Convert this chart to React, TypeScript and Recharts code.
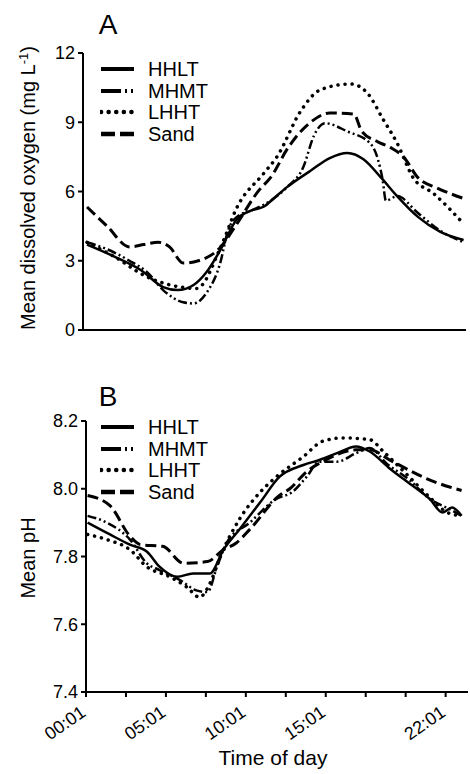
import React from 'react';
import { LineChart, Line, XAxis, YAxis } from 'recharts';

// x = hours since 00:01 ; y = mean value
const HHLT_A: [number, number][] = [[0.25,3.7],[1.9,3.2],[3.6,2.6],[5,1.86],[5.9,1.73],[6.9,1.95],[7.7,2.5],[8.6,3.5],[9.6,4.8],[10.6,5.2],[11.3,5.35],[11.9,5.7],[12.75,6.2],[14.2,6.9],[15.4,7.45],[16.5,7.67],[17.5,7.4],[18.6,6.6],[19.6,5.8],[20.9,4.9],[22.3,4.25],[23.75,3.9]];
const MHMT_A: [number, number][] = [[0.25,3.8],[1.5,3.5],[2.9,3.0],[4,2.5],[5,1.73],[6.25,1.2],[6.9,1.15],[7.7,1.6],[8.6,3.0],[9,4.2],[9.6,4.9],[10.6,5.2],[11.7,5.6],[12.75,6.2],[13.75,7.06],[14.4,8.4],[15.1,8.96],[16.5,8.6],[17.9,8.1],[18.4,7.4],[18.7,6.5],[18.9,5.6],[19.6,5.8],[20.9,5.07],[22.3,4.3],[23.75,3.8]];
const LHHT_A: [number, number][] = [[0.25,3.8],[1.9,3.2],[4,2.3],[6.1,1.86],[7.1,1.8],[8.6,3.6],[9.6,5.3],[11.3,6.8],[12.1,7.5],[13.6,9.5],[14.8,10.4],[16.7,10.66],[17.7,10.3],[18.75,9.1],[19.6,8.1],[20.6,6.6],[21.9,5.9],[23.75,4.6]];
const SAND_A: [number, number][] = [[0.25,5.33],[1.5,4.5],[2.9,3.6],[3.8,3.7],[4.7,3.8],[5.4,3.6],[6.25,2.9],[7.2,3.0],[8.6,3.6],[9.6,4.6],[11,6.07],[11.7,6.6],[12.8,7.9],[14.2,9.0],[15.4,9.4],[16.9,9.35],[17.4,8.6],[18.4,8.15],[19.2,7.9],[20,7.5],[20.9,6.6],[22.1,6.15],[23.75,5.7]];

const HHLT_B: [number, number][] = [[0.1,7.9],[1.5,7.865],[2.75,7.835],[3.8,7.815],[4.6,7.77],[5.7,7.74],[6.7,7.75],[7.75,7.75],[8.6,7.82],[9.6,7.88],[10.9,7.96],[12.1,8.035],[13.6,8.07],[14.6,8.085],[15.7,8.105],[16.9,8.125],[17.75,8.11],[19,8.06],[20.4,8.01],[21.5,7.97],[22.3,7.93],[22.9,7.945],[23.5,7.92]];
const MHMT_B: [number, number][] = [[0.1,7.92],[1.3,7.9],[2.75,7.85],[3.8,7.78],[4.6,7.76],[5.9,7.73],[6.9,7.7],[7.6,7.695],[8.2,7.77],[8.8,7.84],[10.25,7.9],[11.9,7.97],[12.9,7.99],[13.8,8.035],[14.6,8.08],[15.7,8.08],[16.9,8.105],[17.75,8.12],[18.8,8.075],[20.25,8.025],[21.5,7.97],[22.75,7.94],[23.5,7.92]];
const LHHT_B: [number, number][] = [[0.1,7.865],[1.3,7.85],[2.75,7.82],[3.8,7.77],[5.25,7.74],[6.3,7.71],[7.1,7.68],[7.75,7.72],[8.4,7.8],[9.6,7.91],[10.9,7.99],[11.9,8.035],[13.6,8.095],[14.8,8.14],[16.1,8.15],[17.75,8.145],[18.6,8.11],[19.8,8.055],[21.5,7.975],[22.6,7.93],[23.5,7.92]];
const SAND_B: [number, number][] = [[0.1,7.98],[1.5,7.95],[2.75,7.86],[3.4,7.835],[4.8,7.83],[6.1,7.78],[7.6,7.785],[8.6,7.82],[9.4,7.84],[10.25,7.88],[12.1,7.98],[12.75,8.0],[13.8,8.05],[15,8.085],[16.9,8.115],[17.75,8.115],[19,8.085],[20,8.06],[21.3,8.03],[22.75,8.005],[23.5,7.995]];

const hourTicks = [0, 2.5, 5, 7.5, 10, 12.5, 15, 17.5, 20, 22.5];
const tickLabels: Record<string, string> = { '0': '00:01', '5': '05:01', '10': '10:01', '15': '15:01', '22.5': '22:01' };
const doTicks = [0, 3, 6, 9, 12];
const phTicks = [7.4, 7.6, 7.8, 8.0, 8.2];
const seriesNames = ['HHLT', 'MHMT', 'LHHT', 'Sand'];

const FONT = '"Liberation Sans", Arial, Helvetica, sans-serif';

type Style = { dash?: string; width: number; cap: 'butt' | 'round' };
const styles: Record<string, Style> = {
  HHLT: { width: 2.5, cap: 'butt' },
  MHMT: { dash: '9 3 2 3 2 3', width: 2.5, cap: 'butt' },
  LHHT: { dash: '0.1 7', width: 3.5, cap: 'round' },
  Sand: { dash: '11 5', width: 3, cap: 'butt' },
};
const legendStyles: Record<string, Style> = {
  HHLT: { width: 4, cap: 'butt' },
  MHMT: { dash: '20 4 2 4 2 4', width: 4, cap: 'butt' },
  LHHT: { dash: '0.1 7.5', width: 4.5, cap: 'round' },
  Sand: { dash: '14 5', width: 4.5, cap: 'butt' },
};

const toPts = (a: [number, number][]) => a.map(([h, v]) => ({ h, v }));

const XTick = (props: any) => {
  const { x, y, payload } = props;
  const label = tickLabels[String(payload.value)];
  if (!label) return <g />;
  const tx = x + 1;
  const ty = y + 18;
  return (
    <text x={tx} y={ty} transform={`rotate(-35 ${tx} ${ty})`} textAnchor="end" fontSize={18} fontFamily={FONT} fill="#000">
      {label}
    </text>
  );
};

const lines = (sets: [number, number][][]) =>
  sets.map((s, i) => {
    const st = styles[seriesNames[i]];
    return (
      <Line
        key={seriesNames[i]}
        data={toPts(s)}
        dataKey="v"
        type="monotone"
        stroke="#000"
        strokeWidth={st.width}
        strokeDasharray={st.dash}
        strokeLinecap={st.cap}
        dot={false}
        activeDot={false}
        isAnimationActive={false}
      />
    );
  });

const LegendBox = ({ top }: { top: number }) => (
  <>
    {seriesNames.map((n, i) => {
      const st = legendStyles[n];
      return (
        <div key={n} style={{ position: 'absolute', left: 100, top: top + i * 21.5 - 12, height: 24, display: 'flex', alignItems: 'center' }}>
          <svg width={36} height={10} style={{ display: 'block' }}>
            <line x1={1} y1={5} x2={34} y2={5} stroke="#000" strokeWidth={st.width} strokeDasharray={st.dash} strokeLinecap={st.cap} />
          </svg>
          <span style={{ marginLeft: 12, fontSize: 20, fontFamily: FONT, lineHeight: '24px' }}>{n}</span>
        </div>
      );
    })}
  </>
);

const abs = (left: number, top: number, extra: React.CSSProperties = {}): React.CSSProperties => ({
  position: 'absolute',
  left,
  top,
  transform: 'translate(-50%, -50%)',
  whiteSpace: 'nowrap',
  fontFamily: FONT,
  color: '#000',
  ...extra,
});

export default function App() {
  const tickStyle = { fontSize: 18, fontFamily: FONT, fill: '#000' };
  return (
    <div style={{ position: 'absolute', left: 0, top: 0, width: 470, height: 774, background: '#fff', overflow: 'hidden' }}>
      <div style={{ position: 'absolute', left: 0, top: 0 }}>
        <LineChart width={470} height={360} margin={{ top: 53, right: 4, bottom: 0, left: 33 }}>
          <XAxis
            dataKey="h"
            type="number"
            domain={[0, 23.9]}
            ticks={hourTicks}
            allowDataOverflow
            height={30}
            tick={false}
            tickSize={5}
            stroke="#000"
            strokeWidth={2}
          />
          <YAxis
            type="number"
            domain={[0, 12]}
            ticks={doTicks}
            width={50}
            tickSize={5}
            tickMargin={3}
            tick={tickStyle}
            stroke="#000"
            strokeWidth={2}
            allowDataOverflow
          />
          {lines([HHLT_A, MHMT_A, LHHT_A, SAND_A])}
        </LineChart>
      </div>
      <div style={{ position: 'absolute', left: 0, top: 380 }}>
        <LineChart width={470} height={394} margin={{ top: 41, right: 2, bottom: 22, left: 36 }}>
          <XAxis
            dataKey="h"
            type="number"
            domain={[0, 23.9]}
            ticks={hourTicks}
            allowDataOverflow
            height={60}
            tick={<XTick />}
            tickSize={5}
            tickMargin={0}
            interval={0}
            stroke="#000"
            strokeWidth={2}
          />
          <YAxis
            type="number"
            domain={[7.4, 8.2]}
            ticks={phTicks}
            width={50}
            tickSize={5}
            tickMargin={3}
            tick={tickStyle}
            tickFormatter={(v: number) => v.toFixed(1)}
            stroke="#000"
            strokeWidth={2}
            allowDataOverflow
          />
          {lines([HHLT_B, MHMT_B, LHHT_B, SAND_B])}
        </LineChart>
      </div>

      <div style={abs(108, 25, { fontSize: 28 })}>A</div>
      <div style={abs(108, 397, { fontSize: 28 })}>B</div>

      <div style={abs(28, 188, { fontSize: 20, transform: 'translate(-50%, -50%) rotate(-90deg)' })}>
        Mean dissolved oxygen (mg L<sup style={{ fontSize: 13 }}>-1</sup>)
      </div>
      <div style={abs(28, 558, { fontSize: 20, transform: 'translate(-50%, -50%) rotate(-90deg)' })}>Mean pH</div>
      <div style={abs(273, 758, { fontSize: 21 })}>Time of day</div>

      <LegendBox top={69} />
      <LegendBox top={427} />
    </div>
  );
}
